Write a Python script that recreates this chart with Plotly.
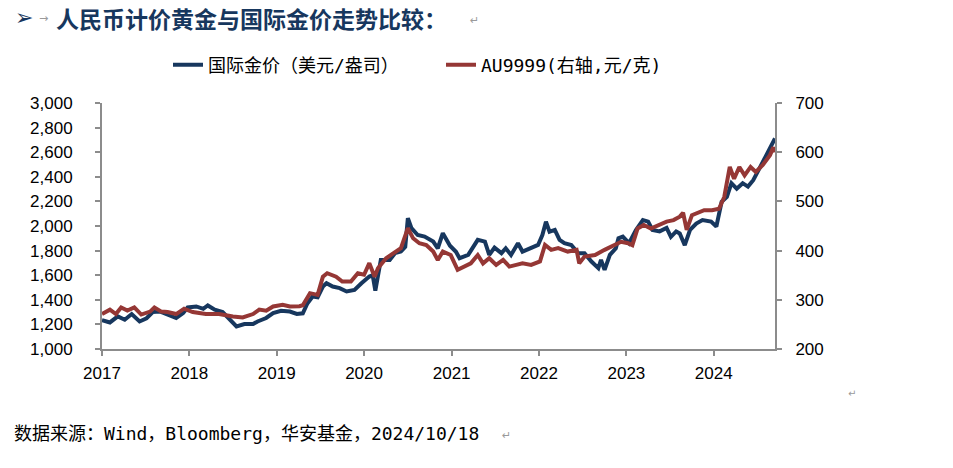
import plotly.graph_objects as go

# ---------------- data ----------------
usd_dates = [
    "2017-01-01", "2017-02-03", "2017-03-08", "2017-04-06", "2017-05-05", "2017-06-07",
    "2017-07-06", "2017-08-01", "2017-08-30", "2017-09-28", "2017-11-07", "2017-12-06",
    "2017-12-25", "2018-01-30", "2018-02-28", "2018-03-19", "2018-04-17", "2018-05-20",
    "2018-06-18", "2018-07-17", "2018-08-19", "2018-09-24", "2018-10-13", "2018-11-18",
    "2018-12-17", "2019-01-19", "2019-02-25", "2019-03-26", "2019-04-20", "2019-05-09",
    "2019-05-31", "2019-06-21", "2019-07-13", "2019-07-28", "2019-08-23", "2019-09-21",
    "2019-10-20", "2019-11-22", "2019-12-21", "2020-01-23", "2020-02-06", "2020-02-17",
    "2020-03-11", "2020-04-17", "2020-05-09", "2020-06-03", "2020-06-21", "2020-07-02",
    "2020-07-17", "2020-08-12", "2020-09-10", "2020-10-16", "2020-11-04", "2020-11-25",
    "2020-12-25", "2021-01-19", "2021-02-03", "2021-03-11", "2021-04-20", "2021-05-20",
    "2021-06-07", "2021-06-29", "2021-07-28", "2021-08-15", "2021-09-06", "2021-10-05",
    "2021-10-24", "2021-11-29", "2021-12-28", "2022-01-15", "2022-01-30", "2022-02-14",
    "2022-03-08", "2022-03-28", "2022-04-17", "2022-05-16", "2022-06-14", "2022-07-10",
    "2022-08-08", "2022-09-06", "2022-09-17", "2022-10-02", "2022-10-24", "2022-11-18",
    "2022-11-29", "2022-12-17", "2023-01-12", "2023-02-10", "2023-03-11", "2023-04-02",
    "2023-04-20", "2023-05-20", "2023-06-18", "2023-07-06", "2023-07-28", "2023-08-12",
    "2023-09-02", "2023-09-24", "2023-10-20", "2023-11-15", "2023-12-21", "2024-01-12",
    "2024-02-03", "2024-02-25", "2024-03-15", "2024-04-06", "2024-05-01", "2024-05-23",
    "2024-06-14", "2024-07-10", "2024-08-08", "2024-08-30", "2024-09-13",
]
usd_values = [
    1235, 1216, 1265, 1238, 1284, 1224,
    1250, 1300, 1305, 1279, 1252, 1292,
    1338, 1346, 1327, 1354, 1319, 1300,
    1238, 1184, 1203, 1203, 1224, 1252,
    1292, 1311, 1305, 1285, 1290, 1370,
    1427, 1420, 1508, 1535, 1508, 1495,
    1468, 1481, 1535, 1589, 1600, 1475,
    1724, 1724, 1779, 1792, 1830, 2063,
    1982, 1927, 1914, 1873, 1819, 1941,
    1840, 1790, 1738, 1765, 1887, 1873,
    1765, 1824, 1779, 1819, 1765, 1860,
    1792, 1819, 1846, 1927, 2035, 1954,
    1968, 1887, 1860, 1846, 1779, 1779,
    1711, 1657, 1724, 1643, 1765, 1819,
    1900, 1914, 1860, 1968, 2048, 2036,
    1968, 1956, 1984, 1912, 1956, 1940,
    1844, 1968, 2020, 2048, 2036, 1996,
    2196, 2236, 2348, 2304, 2348, 2320,
    2372, 2468, 2576, 2644, 2712,
]

cny_dates = [
    "2017-01-01", "2017-02-03", "2017-02-28", "2017-03-22", "2017-04-17", "2017-05-16",
    "2017-06-14", "2017-07-21", "2017-08-08", "2017-09-06", "2017-10-02", "2017-11-07",
    "2017-12-10", "2018-01-15", "2018-03-11", "2018-05-05", "2018-07-02", "2018-08-12",
    "2018-09-24", "2018-10-20", "2018-11-18", "2018-12-17", "2019-01-26", "2019-02-25",
    "2019-04-06", "2019-04-20", "2019-05-20", "2019-06-21", "2019-07-13", "2019-07-31",
    "2019-09-06", "2019-10-02", "2019-11-07", "2019-12-06", "2020-01-01", "2020-01-23",
    "2020-02-14", "2020-02-28", "2020-04-02", "2020-05-01", "2020-06-03", "2020-07-02",
    "2020-07-24", "2020-08-19", "2020-09-17", "2020-10-16", "2020-11-04", "2020-11-25",
    "2020-12-28", "2021-01-26", "2021-02-25", "2021-03-22", "2021-04-20", "2021-05-12",
    "2021-06-07", "2021-07-06", "2021-08-04", "2021-08-30", "2021-09-28", "2021-10-24",
    "2021-11-29", "2022-01-05", "2022-01-26", "2022-02-21", "2022-03-22", "2022-05-01",
    "2022-06-07", "2022-06-18", "2022-07-10", "2022-08-23", "2022-10-02", "2022-11-11",
    "2022-12-10", "2023-01-08", "2023-01-26", "2023-02-17", "2023-03-15", "2023-04-13",
    "2023-05-20", "2023-06-18", "2023-07-17", "2023-08-12", "2023-08-26", "2023-09-10",
    "2023-10-02", "2023-10-27", "2023-11-22", "2023-12-25", "2024-01-23", "2024-02-14",
    "2024-03-08", "2024-03-26", "2024-04-17", "2024-05-09", "2024-06-03", "2024-06-25",
    "2024-07-24", "2024-08-23", "2024-09-06", "2024-09-13",
]
cny_values = [
    271, 280, 271, 284.5, 278, 284.5,
    270, 276, 284.5, 276, 275, 271,
    282, 275, 271, 271, 266, 264,
    271, 280, 278, 286.5, 290, 286.5,
    287, 289, 313.5, 310, 347, 354,
    347, 337, 337, 354, 351, 374.5,
    347, 364, 384.5, 395, 405, 445.5,
    425, 415, 411.5, 398, 381, 398,
    391, 361, 367.5, 374, 391, 374,
    384.5, 371, 381, 367.5, 371, 374,
    371, 378, 411.5, 401.5, 405, 398,
    401.5, 374, 388, 391, 401.5, 411.5,
    418, 415, 411, 445, 452, 445,
    452, 459, 462, 469, 477, 442,
    472, 476, 482, 482, 485, 509,
    570, 546, 570, 553, 570, 560,
    574, 594, 610, 600,
]

series_names = ["国际金价（美元/盎司）", "AU9999(右轴,元/克)"]
left_ticks = [1000, 1200, 1400, 1600, 1800, 2000, 2200, 2400, 2600, 2800, 3000]
right_ticks = [200, 300, 400, 500, 600, 700]
year_ticks = ["2017-01-01", "2018-01-01", "2019-01-01", "2020-01-01",
              "2021-01-01", "2022-01-01", "2023-01-01", "2024-01-01"]
year_labels = ["2017", "2018", "2019", "2020", "2021", "2022", "2023", "2024"]

title_text = "人民币计价黄金与国际金价走势比较："
source_text = "数据来源：Wind，Bloomberg，华安基金，2024/10/18"

# ---------------- figure ----------------
NAVY = "#17375E"
RED = "#953735"
AXIS = "#8C8C8C"
CJK = "Noto Sans CJK SC"
MIX = "DejaVu Sans Mono, Noto Sans CJK SC"
LAT = "Liberation Sans, Arial"

fig = go.Figure()
fig.add_trace(go.Scatter(x=usd_dates, y=usd_values, name=series_names[0], mode="lines",
                         line=dict(color=NAVY, width=4), yaxis="y"))
fig.add_trace(go.Scatter(x=cny_dates, y=cny_values, name=series_names[1], mode="lines",
                         line=dict(color=RED, width=4), yaxis="y2"))

L, R, T, B = 102, 775, 103, 349
W, H = 953, 468

def px(x):
    return (x - L) / (R - L)

def py(y):
    return (B - y) / (B - T)

fig.update_layout(
    width=W, height=H,
    margin=dict(l=L, r=W - R, t=T, b=H - B, pad=0, autoexpand=False),
    paper_bgcolor="white", plot_bgcolor="white",
    showlegend=True,
    legend=dict(orientation="h", xref="container", yref="container",
                x=168 / W, y=1 - 65 / H, xanchor="left", yanchor="middle",
                font=dict(family=MIX, size=18, color="#000000"),
                entrywidth=228, bgcolor="rgba(0,0,0,0)"),
    xaxis=dict(type="date", range=["2017-01-01", "2024-09-13"],
               tickvals=year_ticks, ticktext=year_labels,
               showgrid=False, zeroline=False, showline=True, linecolor=AXIS, linewidth=2,
               ticks="outside", ticklen=5, tickwidth=2, tickcolor=AXIS,
               ticklabelstandoff=3,
               tickfont=dict(family=LAT, size=17, color="#000000")),
    yaxis=dict(range=[1000, 3000], tickvals=left_ticks, tickformat=",",
               showgrid=False, zeroline=False, showline=True, linecolor=AXIS, linewidth=2,
               ticks="outside", ticklen=5, tickwidth=2, tickcolor=AXIS,
               ticklabelstandoff=19,
               tickfont=dict(family=LAT, size=17, color="#000000")),
    yaxis2=dict(range=[200, 700], tickvals=right_ticks, overlaying="y", side="right",
                showgrid=False, zeroline=False, showline=True, linecolor=AXIS, linewidth=2,
                ticks="outside", ticklen=5, tickwidth=2, tickcolor=AXIS,
                ticklabelstandoff=10,
                tickfont=dict(family=LAT, size=17, color="#000000")),
)

annotations = [
    dict(text="➢", x=px(13), y=py(17), xanchor="left", yanchor="middle",
         font=dict(family="DejaVu Sans", size=22, color=NAVY)),
    dict(text="→", x=px(37), y=py(18), xanchor="left", yanchor="middle",
         font=dict(family="DejaVu Sans", size=11, color="#9A9A9A")),
    dict(text="<b>" + title_text + "</b>", x=px(54), y=py(18), xanchor="left", yanchor="middle",
         font=dict(family=CJK, size=23, color=NAVY)),
    dict(text="↵", x=px(468), y=py(20), xanchor="left", yanchor="middle",
         font=dict(family="DejaVu Sans", size=11, color="#9A9A9A")),
    dict(text=source_text, x=px(12), y=py(433), xanchor="left", yanchor="middle",
         font=dict(family=MIX, size=18, color="#000000")),
    dict(text="↵", x=px(500), y=py(436), xanchor="left", yanchor="middle",
         font=dict(family="DejaVu Sans", size=11, color="#9A9A9A")),
    dict(text="↵", x=px(846), y=py(393), xanchor="left", yanchor="middle",
         font=dict(family="DejaVu Sans", size=10, color="#9A9A9A")),
]
for a in annotations:
    a.update(xref="paper", yref="paper", showarrow=False)
fig.update_layout(annotations=annotations)

fig.write_html("out.html", config={"displayModeBar": False},
               post_script="document.body.style.margin='0';")
